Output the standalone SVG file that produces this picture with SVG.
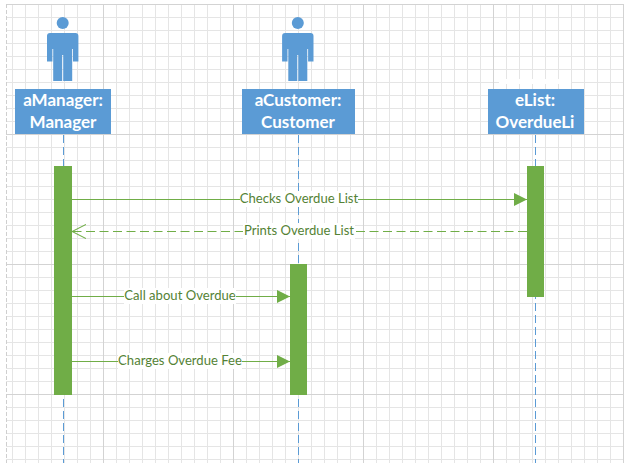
<svg xmlns="http://www.w3.org/2000/svg" width="624" height="463" viewBox="0 0 624 463">
<style>
.minor{stroke:#e5e5e5;stroke-width:1;fill:none}
.major{stroke:#d3d3d3;stroke-width:1;fill:none}
.edge{stroke:#cfcfcf;stroke-width:1;stroke-dasharray:4 2;fill:none}
.box{fill:#5b9bd5}
.bar{fill:#70ad47}
.life{stroke:#5b9bd5;stroke-width:1;stroke-dasharray:8 4;fill:none}
.msg{stroke:#70ad47;stroke-width:1.2;fill:none}
.dash{stroke-dasharray:9 4.500}
.bg{fill:#fff}
.head{font:bold 17px "Lato","Liberation Sans",sans-serif;fill:#fff;text-anchor:middle}
.lab{font:13.100px "Lato","Liberation Sans",sans-serif;fill:#548235;text-anchor:middle}
</style>
<defs>
<marker id="fill" markerUnits="userSpaceOnUse" markerWidth="14" markerHeight="14" refX="13" refY="7" orient="auto"><path d="M0 0.500L13 7L0 13.500Z" fill="#70ad47"/></marker>
<marker id="open" markerUnits="userSpaceOnUse" markerWidth="15" markerHeight="16" refX="14" refY="8" orient="auto"><path d="M0 1L14 8L0 15" fill="none" stroke="#70ad47" stroke-width="1.100"/></marker>
<g id="actor">
<circle cx="0" cy="0" r="6"/>
<path d="M-15.700 13Q-15.700 10-12.700 10H12.700Q15.700 10 15.700 13V38.500H10.300V26H9.500V58H0.500V32H-0.500V58H-9.500V26H-10.300V38.500H-15.700Z"/>
</g>
</defs>
<rect width="624" height="463" fill="#fff"/>
<g id="grid">
<path class="minor" d="M12.500 4V463M25.500 4V463M38.500 4V463M51.500 4V463M64.500 4V463M77.500 4V463M90.500 4V463M116.500 4V463M129.500 4V463M142.500 4V463M155.500 4V463M168.500 4V463M181.500 4V463M194.500 4V463M207.500 4V463M220.500 4V463M246.500 4V463M259.500 4V463M272.500 4V463M285.500 4V463M298.500 4V463M311.500 4V463M324.500 4V463M337.500 4V463M350.500 4V463M376.500 4V463M389.500 4V463M402.500 4V463M415.500 4V463M428.500 4V463M441.500 4V463M454.500 4V463M467.500 4V463M480.500 4V463M506.500 4V463M519.500 4V463M532.500 4V463M545.500 4V463M558.500 4V463M571.500 4V463M584.500 4V463M597.500 4V463M610.500 4V463"/>
<path class="minor" d="M6 17.500H624M6 30.500H624M6 43.500H624M6 56.500H624M6 69.500H624M6 82.500H624M6 95.500H624M6 108.500H624M6 121.500H624M6 147.500H624M6 160.500H624M6 173.500H624M6 186.500H624M6 199.500H624M6 212.500H624M6 225.500H624M6 238.500H624M6 251.500H624M6 277.500H624M6 290.500H624M6 303.500H624M6 316.500H624M6 329.500H624M6 342.500H624M6 355.500H624M6 368.500H624M6 381.500H624M6 407.500H624M6 420.500H624M6 433.500H624M6 446.500H624M6 459.500H624"/>
<path class="major" d="M103.500 4V463M233.500 4V463M363.500 4V463M493.500 4V463M623.500 4V463M6 4.500H624M6 134.500H624M6 264.500H624M6 394.500H624"/>
<path class="edge" d="M6.500 4V463"/>
<rect class="bg" x="499" y="79" width="72" height="5"/>
</g>
<g id="lifelines">
<path class="life" d="M63.500 135V463"/>
<path class="life" d="M298.500 135V463"/>
<path class="life" d="M535.500 135V463"/>
</g>
<g id="aManager">
<use href="#actor" x="62.700" y="23" class="box"/>
<rect class="box" x="15" y="89" width="96" height="45"/>
<text class="head" x="63" y="106">aManager:</text>
<text class="head" x="63" y="128">Manager</text>
<rect class="bar" x="54" y="166" width="18" height="229"/>
</g>
<g id="aCustomer">
<use href="#actor" x="297.800" y="23" class="box"/>
<rect class="box" x="242" y="89" width="113" height="45"/>
<text class="head" x="298" y="106">aCustomer:</text>
<text class="head" x="298" y="128">Customer</text>
<rect class="bar" x="290" y="264" width="17" height="131"/>
</g>
<g id="eList">
<rect class="box" x="488" y="89" width="96" height="45"/>
<text class="head" x="535" y="106">eList:</text>
<text class="head" x="535" y="128">OverdueLi</text>
<rect class="bar" x="527" y="166" width="17" height="131"/>
</g>
<g id="connectors">
<path class="msg" d="M72 199.500H527" marker-end="url(#fill)"/>
<path class="msg dash" d="M527 231.500H72" marker-end="url(#open)"/>
<path class="msg" d="M72 296.500H290" marker-end="url(#fill)"/>
<path class="msg" d="M72 361.500H290" marker-end="url(#fill)"/>
<rect class="bg" x="240" y="191" width="118" height="16"/>
<rect class="bg" x="243" y="223" width="112" height="16"/>
<rect class="bg" x="124" y="288" width="112" height="16"/>
<rect class="bg" x="118" y="353" width="124" height="16"/>
<text class="lab" x="299" y="203">Checks Overdue List</text>
<text class="lab" x="299" y="235">Prints Overdue List</text>
<text class="lab" x="180" y="300">Call about Overdue</text>
<text class="lab" x="180" y="365">Charges Overdue Fee</text>
</g>
</svg>
